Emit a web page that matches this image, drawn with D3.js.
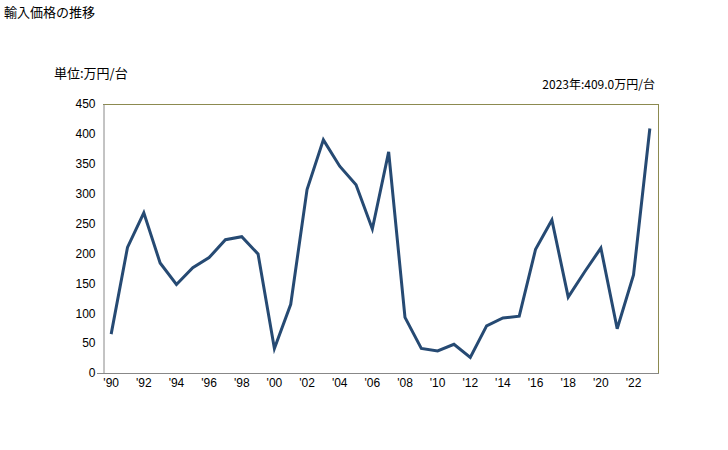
<!DOCTYPE html>
<html><head><meta charset="utf-8">
<script src="https://cdn.jsdelivr.net/npm/d3@7"></script>
<style>body{margin:0;background:#fff;}svg{display:block;font-family:"Noto Sans CJK JP","Noto Sans",sans-serif;}</style>
</head><body>
<svg id="c" width="728" height="450"></svg>
<script>
const years = d3.range(1990, 2024);
const values = [65,210,268,184,148,176,193,223,228,199,41,115,307,390,346,315,241,370,93,41,37,48,26,79,92,95,207,256,127,169,209,74,164,409];
const yTicks = [0,50,100,150,200,250,300,350,400,450];
const xTickYears = d3.range(1990, 2023, 2);
const title = "輸入価格の推移";
const unit = "単位:万円/台";
const note = "2023年:409.0万円/台";

const svg = d3.select("#c");
const L=103, R=658, T=104, B=373;
const x = d3.scaleBand().domain(years).range([L,R]);
const y = d3.scaleLinear().domain([0,450]).range([B,T]);

svg.append("text").attr("x",4).attr("y",17).attr("font-size",13).attr("fill","#000").text(title);
svg.append("text").attr("x",54).attr("y",78).attr("font-size",13).attr("fill","#000").text(unit);
svg.append("text").attr("x",655).attr("y",89).attr("text-anchor","end").attr("font-size",12).attr("fill","#000").text(note);

// frame
svg.append("line").attr("x1",L).attr("x2",R).attr("y1",T+0.5).attr("y2",T+0.5).attr("stroke","#8c8a50");
svg.append("line").attr("x1",R+0.5).attr("x2",R+0.5).attr("y1",T).attr("y2",B).attr("stroke","#8c8a50");

const ya = svg.append("g").attr("transform",`translate(${L+0.5},0)`)
  .call(d3.axisLeft(y).tickValues(yTicks).tickSize(0).tickPadding(8).tickSizeOuter(0));
ya.select(".domain").attr("stroke","#888");
ya.selectAll("text").attr("font-size",12).attr("fill","#000").attr("font-family","Liberation Sans, Arial, sans-serif");

const xa = svg.append("g").attr("transform",`translate(0,${B+0.5})`)
  .call(d3.axisBottom(x).tickValues(xTickYears).tickSize(0).tickSizeOuter(0).tickFormat(d=>"'"+String(d).slice(2)));
xa.select(".domain").attr("stroke","#888").attr("d",`M${L-6},0H${R+1}`);
xa.selectAll("text").attr("font-size",12).attr("fill","#000").attr("dy","0.9em").attr("font-family","Liberation Sans, Arial, sans-serif");

const line = d3.line().x((d,i)=>x(years[i])+x.bandwidth()/2).y(d=>y(d));
svg.append("path").datum(values).attr("d",line).attr("fill","none").attr("stroke","#264a73").attr("stroke-width",3).attr("stroke-linejoin","miter");
</script>
</body></html>
